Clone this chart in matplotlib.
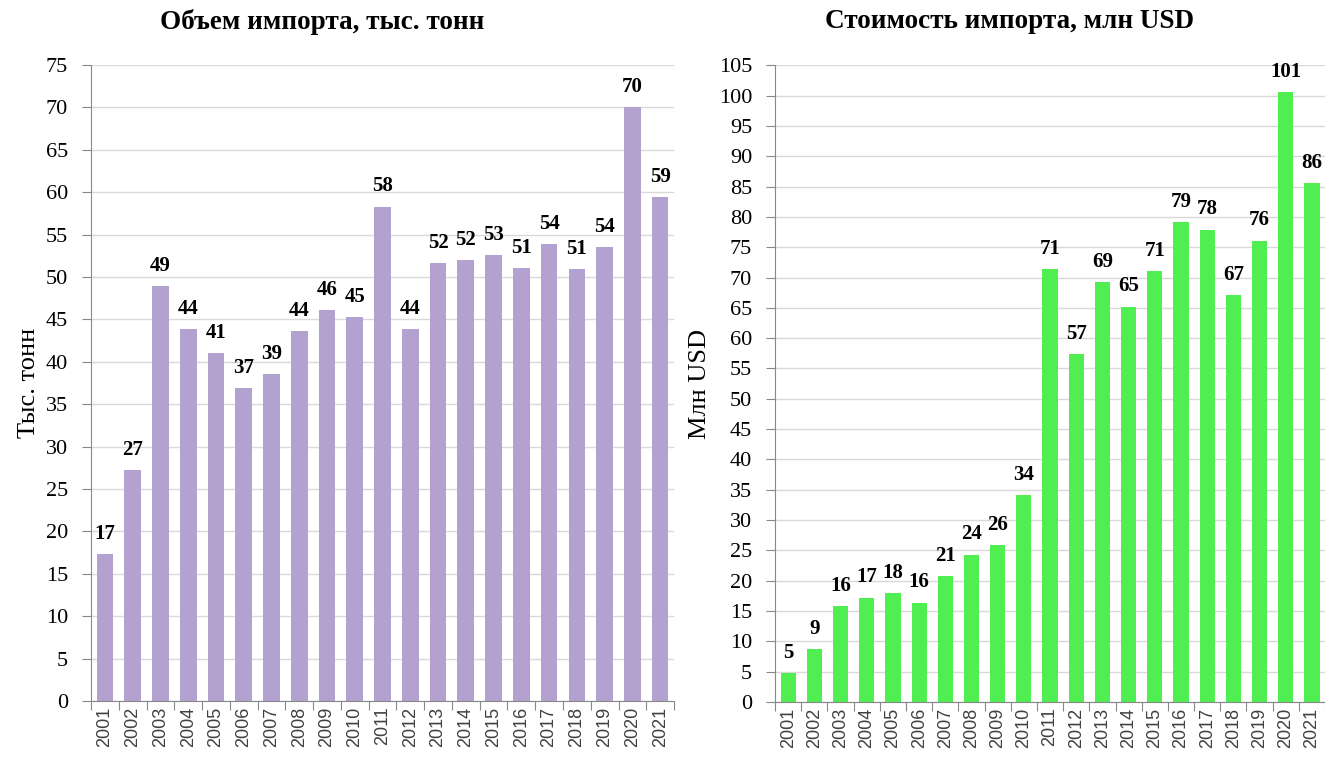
import matplotlib
matplotlib.use('Agg')
import matplotlib.pyplot as plt

years = [str(y) for y in range(2001, 2022)]
volume = [17.3, 27.2, 48.9, 43.9, 41.0, 36.9, 38.6, 43.6, 46.1, 45.3, 58.3,
          43.9, 51.6, 52.0, 52.6, 51.1, 53.9, 50.9, 53.5, 70.0, 59.4]
value = [4.7, 8.7, 15.8, 17.2, 18.0, 16.4, 20.8, 24.3, 25.9, 34.1, 71.4,
         57.4, 69.2, 65.2, 71.0, 79.2, 77.9, 67.1, 76.1, 100.6, 85.6]

serif = 'Liberation Serif'
sans = 'Liberation Sans'

fig = plt.figure(figsize=(13.25, 7.58), dpi=100)
ax1 = fig.add_axes([0.0687, 0.0752, 0.440, 0.839])
ax2 = fig.add_axes([0.585, 0.0739, 0.415, 0.840])


def draw(ax, data, color, width, ymax, ylabel, lpad):
    x = range(len(data))
    bars = ax.bar(x, data, width=width, color=color, zorder=2)
    for b, v in zip(bars, data):
        ax.text(b.get_x() + b.get_width() / 2, v + ymax * 0.016, str(round(v)),
                ha='center', va='bottom', fontsize=15, fontweight='bold',
                family=serif)
    ax.set_xlim(-0.5, len(data) - 0.5)
    ax.set_ylim(0, ymax)
    ax.set_yticks(range(0, ymax + 1, 5))
    ax.set_yticklabels([str(t) for t in range(0, ymax + 1, 5)],
                       fontsize=16, family=serif)
    ax.set_xticks([i - 0.5 for i in range(len(data) + 1)], minor=False)
    ax.set_xticklabels([])
    ax.set_xticks(list(x), minor=True)
    ax.set_xticklabels(years, minor=True, rotation=90, fontsize=13,
                       family=sans, color='#404040')
    ax.tick_params(axis='x', which='minor', length=0, pad=4)
    ax.tick_params(axis='x', which='major', length=6.5, color='#888888',
                   direction='out')
    ax.tick_params(axis='y', length=6.5, color='#888888', pad=10)
    ax.grid(axis='y', color='#d9d9d9', linewidth=1, zorder=0)
    for s in ['top', 'right']:
        ax.spines[s].set_visible(False)
    for s in ['left', 'bottom']:
        ax.spines[s].set_color('#888888')
    ax.set_ylabel(ylabel, fontsize=19, family=serif, labelpad=lpad)


draw(ax1, volume, '#b3a2cf', 0.6, 75, 'Тыс. тонн', 4)
draw(ax2, value, '#50ee50', 0.58, 105, 'Млн USD', 6)

fig.text(322 / 1325, 1 - 22 / 758, 'Объем импорта, тыс. тонн', ha='center',
         va='center', fontsize=19.5, fontweight='bold', family=serif)
fig.text(1010 / 1325, 1 - 22 / 758, 'Стоимость импорта, млн USD', ha='center',
         va='center', fontsize=19.5, fontweight='bold', family=serif)

fig.savefig('out.png', dpi=100)
